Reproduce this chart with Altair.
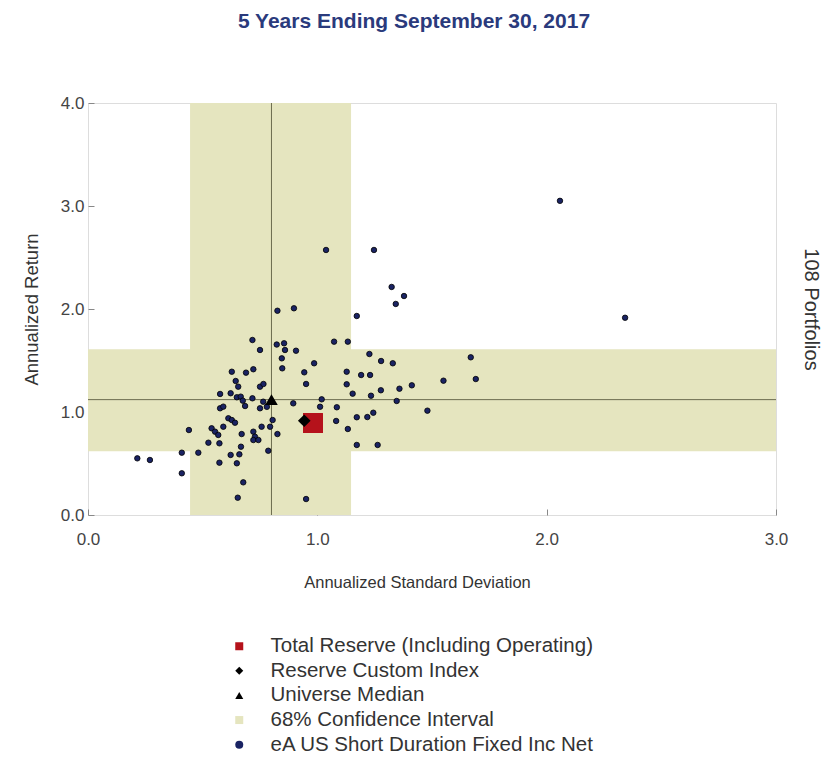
import altair as alt
import pandas as pd

# ---- data ----
universe_x = [2.058, 2.342, 1.038, 1.247, 1.324, 1.378, 1.342, 0.826, 0.898, 1.172,
              0.717, 0.750, 0.823, 0.855, 0.859, 0.907, 1.073, 1.133, 0.627, 0.689,
              0.721, 0.644, 0.655, 0.750, 0.765, 0.576, 0.622, 0.649, 0.666, 0.717,
              0.685, 0.750, 0.576, 0.590, 0.805, 0.612, 0.627, 0.641, 0.590, 0.539,
              0.554, 0.568, 0.440, 0.670, 0.721, 0.728, 0.721, 0.743, 0.757, 0.794,
              0.525, 0.573, 0.667, 0.409, 0.481, 0.786, 0.622, 0.660, 0.215, 0.270,
              0.573, 0.649, 0.409, 0.677, 0.653, 0.951, 0.845, 0.847, 0.986, 0.943,
              1.227, 1.278, 1.329, 1.669, 1.691, 1.550, 1.128, 1.191, 1.230, 0.951,
              1.128, 1.412, 1.358, 1.277, 1.154, 1.234, 1.019, 1.012, 0.895, 1.085,
              1.346, 1.480, 1.244, 1.218, 1.172, 1.082, 0.826, 1.133, 1.172, 1.263,
              0.675, 0.764, 0.780]
universe_y = [3.050, 1.915, 2.573, 2.573, 2.214, 2.126, 2.049, 1.983, 2.007, 1.932,
              1.699, 1.602, 1.655, 1.667, 1.602, 1.595, 1.683, 1.683, 1.391, 1.382,
              1.415, 1.301, 1.246, 1.246, 1.272, 1.175, 1.182, 1.143, 1.149, 1.133,
              1.058, 1.036, 1.036, 1.052, 0.922, 0.939, 0.922, 0.896, 0.857, 0.842,
              0.809, 0.777, 0.825, 0.786, 0.809, 0.760, 0.728, 0.728, 0.857, 0.857,
              0.702, 0.696, 0.663, 0.605, 0.605, 0.624, 0.583, 0.589, 0.550, 0.534,
              0.508, 0.502, 0.405, 0.317, 0.168, 0.155, 1.521, 1.424, 1.473, 1.385,
              1.563, 1.495, 1.473, 1.531, 1.320, 1.304, 1.391, 1.359, 1.359, 1.272,
              1.269, 1.259, 1.226, 1.211, 1.178, 1.158, 1.123, 1.051, 1.084, 1.046,
              1.107, 1.013, 0.993, 0.951, 0.949, 0.913, 0.786, 0.835, 0.680, 0.680,
              1.110, 1.100, 1.050]

reserve_x = [0.981]
reserve_y = [0.893]
custom_x = [0.943]
custom_y = [0.915]
median_x = [0.80]
median_y = [1.12]
ci_x = [0.445, 1.147]
ci_y = [0.62, 1.61]
x_domain = [0.0, 3.0]
y_domain = [0.0, 4.0]

series_names = ["Total Reserve (Including Operating)", "Reserve Custom Index",
                "Universe Median", "68% Confidence Interval",
                "eA US Short Duration Fixed Inc Net"]
series_colors = ["#b5121b", "#000000", "#000000", "#e5e5bf", "#1a2363"]
series_shapes = ["square", "diamond", "triangle-up", "square", "circle"]

FONT = "Liberation Sans"

uni_df = pd.DataFrame({"x": universe_x, "y": universe_y, "series": series_names[4]})
res_df = pd.DataFrame({"x": reserve_x, "y": reserve_y, "series": series_names[0]})
cus_df = pd.DataFrame({"x": custom_x, "y": custom_y, "series": series_names[1]})
med_df = pd.DataFrame({"x": median_x, "y": median_y, "series": series_names[2]})
vband_df = pd.DataFrame({"x": [ci_x[0]], "x2": [ci_x[1]], "y": [y_domain[0]],
                         "y2": [y_domain[1]], "series": series_names[3]})
hband_df = pd.DataFrame({"x": [x_domain[0]], "x2": [x_domain[1]], "y": [ci_y[0]],
                         "y2": [ci_y[1]], "series": series_names[3]})

xs = alt.Scale(domain=x_domain, nice=False, zero=False)
ys = alt.Scale(domain=y_domain, nice=False, zero=False)


def legend():
    return alt.Legend(title=None, orient="none", legendX=141, legendY=533,
                      symbolSize=64, labelFontSize=20.5, labelFont=FONT,
                      labelColor="#333333", labelOffset=21, rowPadding=3.6,
                      padding=0, symbolStrokeWidth=0, labelLimit=600)


color_enc = alt.Color("series:N",
                      scale=alt.Scale(domain=series_names, range=series_colors),
                      legend=legend())
shape_enc = alt.Shape("series:N",
                      scale=alt.Scale(domain=series_names, range=series_shapes),
                      legend=legend())

x_main = alt.Axis(orient="bottom", values=[0, 1, 2, 3], format=".1f", ticks=False,
                  domain=False, grid=False, labelFlush=False, labelPadding=16,
                  labelFontSize=17, labelFont=FONT, labelColor="#444444",
                  title="Annualized Standard Deviation", titleX=329,
                  titleFontSize=16.5, titleFont=FONT, titleFontWeight="normal",
                  titleColor="#333333", titlePadding=27)
y_main = alt.Axis(orient="left", values=[0, 1, 2, 3, 4], format=".1f", ticks=False,
                  domain=False, grid=False, labelFlush=False, labelPadding=4,
                  labelFontSize=17, labelFont=FONT, labelColor="#444444",
                  title="Annualized Return", titleFontSize=18.5, titleFont=FONT,
                  titleFontWeight="normal", titleColor="#333333", titlePadding=19)
x_inner = alt.Axis(orient="bottom", values=[0, 1, 2, 3], labels=False, domain=False,
                   grid=False, ticks=True, tickSize=6, offset=-6, tickColor="#888888",
                   title=None)
y_inner = alt.Axis(orient="left", values=[0, 1, 2, 3, 4], labels=False, domain=False,
                   grid=False, ticks=True, tickSize=6, offset=-6, tickColor="#888888",
                   title=None)
y_right = alt.Axis(orient="right", labels=False, ticks=False, domain=False, grid=False,
                   title="108 Portfolios", titleFontSize=20, titleFont=FONT,
                   titleFontWeight="normal", titleColor="#333333", titlePadding=24,
                   titleAngle=90)

vband = alt.Chart(vband_df).mark_rect(opacity=1).encode(
    x=alt.X("x:Q", scale=xs, axis=x_main), x2="x2",
    y=alt.Y("y:Q", scale=ys, axis=y_main), y2="y2",
    color=color_enc)
hband = alt.Chart(hband_df).mark_rect(opacity=1).encode(
    x=alt.X("x:Q", scale=xs, axis=x_inner), x2="x2",
    y=alt.Y("y:Q", scale=ys, axis=y_inner), y2="y2",
    color=color_enc)

vrule = alt.Chart(med_df).mark_rule(color="#6b6b4e", strokeWidth=1).encode(
    x=alt.X("x:Q", scale=xs, axis=None))
hrule = alt.Chart(med_df).mark_rule(color="#6b6b4e", strokeWidth=1).encode(
    y=alt.Y("y:Q", scale=ys, axis=None))

uni = alt.Chart(uni_df).mark_point(filled=True, size=30, stroke="#000000",
                                   strokeWidth=0.8, opacity=1).encode(
    x=alt.X("x:Q", scale=xs, axis=None),
    y=alt.Y("y:Q", scale=ys, axis=y_right),
    color=color_enc, shape=shape_enc)

res = alt.Chart(res_df).mark_point(filled=True, size=400, opacity=1).encode(
    x=alt.X("x:Q", scale=xs, axis=None),
    y=alt.Y("y:Q", scale=ys, axis=None),
    color=color_enc, shape=shape_enc)
cus = alt.Chart(cus_df).mark_point(filled=True, size=160, opacity=1).encode(
    x=alt.X("x:Q", scale=xs, axis=None),
    y=alt.Y("y:Q", scale=ys, axis=None),
    color=color_enc, shape=shape_enc)
med = alt.Chart(med_df).mark_point(filled=True, size=160, opacity=1).encode(
    x=alt.X("x:Q", scale=xs, axis=None),
    y=alt.Y("y:Q", scale=ys, axis=None),
    color=color_enc, shape=shape_enc)

chart = alt.layer(vband, hband, vrule, hrule, uni, res, cus, med).resolve_axis(
    x="independent", y="independent"
).properties(
    width=688, height=412,
    autosize=alt.AutoSizeParams(type="none"),
    padding={"left": 88, "top": 103, "right": 57, "bottom": 247},
    title=alt.TitleParams("5 Years Ending September 30, 2017", font=FONT, fontSize=21,
                          fontWeight="bold", color="#2a3a7c", anchor="middle",
                          offset=62, dx=-18),
).configure_view(stroke="#a8a8a8", strokeWidth=1).configure(background="white")

chart.save("out.html", embed_options={"renderer": "svg", "actions": False})
